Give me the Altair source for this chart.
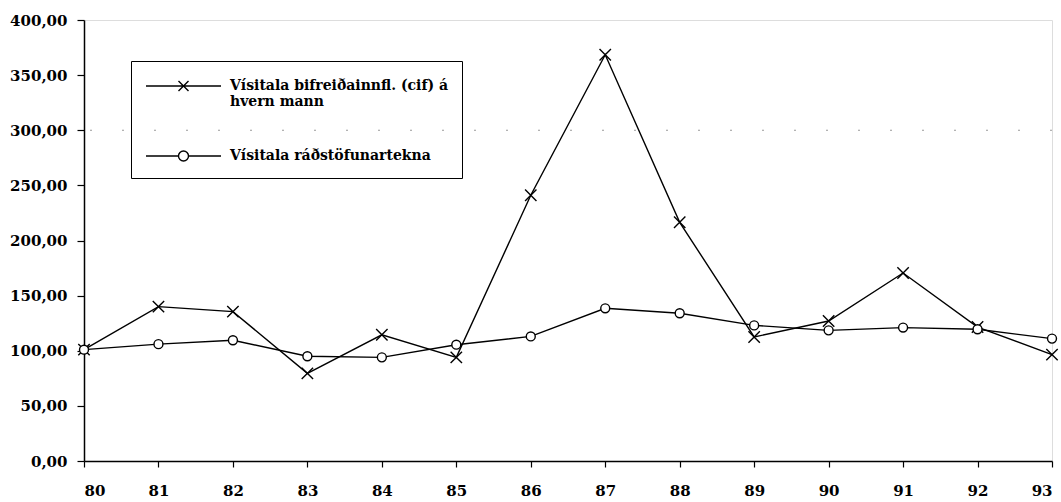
import altair as alt
import pandas as pd

years = [80, 81, 82, 83, 84, 85, 86, 87, 88, 89, 90, 91, 92, 93]
cars = [101, 140, 135.5, 79.5, 114.5, 94, 241, 368.5, 216.5, 112.5, 127, 170.5, 121.5, 96.5]
income = [101, 106, 109.5, 95, 94, 105.5, 113, 138.5, 134, 123, 118.5, 121, 119.5, 111]
series_names = ["Vísitala bifreiðainnfl. (cif) á hvern mann", "Vísitala ráðstöfunartekna"]
label_lines_first = ["Vísitala bifreiðainnfl. (cif) á", "hvern mann"]
y_ticks = [0, 50, 100, 150, 200, 250, 300, 350, 400]

rows = []
for y, a, b in zip(years, cars, income):
    rows.append({"year": y, "series": series_names[0], "value": a})
    rows.append({"year": y, "series": series_names[1], "value": b})
df = pd.DataFrame(rows)

FONT = "DejaVu Serif"
XPATH = "M-1,-1L1,1M-1,1L1,-1"
LEG_X = "M-1,0L6.5,0M2.25,-0.5L3.25,0.5M2.25,0.5L3.25,-0.5"
LEG_O = ("M-1,0L2.25,0M3.25,0L6.5,0"
         "M2.25,0A0.5,0.5,0,1,0,3.25,0A0.5,0.5,0,1,0,2.25,0Z")

axis_common = dict(title=None, grid=False, domainWidth=1.5, tickWidth=1.2,
                   domainColor="black", tickColor="black", labelFont=FONT,
                   labelFontSize=15, labelFontWeight="bold", labelColor="black")

xenc = alt.X("year:Q", scale=alt.Scale(domain=[80, 93], nice=False, zero=False),
             axis=alt.Axis(values=years, format="d", tickSize=6, labelPadding=16,
                           **axis_common))
yenc = alt.Y("value:Q", scale=alt.Scale(domain=[0, 400], nice=False),
             axis=alt.Axis(values=y_ticks,
                           labelExpr="replace(format(datum.value, '.2f'), '.', ',')",
                           tickSize=7, labelPadding=10, **axis_common))

base = alt.Chart(df)

lines = base.mark_line(color="black", strokeWidth=1.4).encode(
    x=xenc, y=yenc, detail="series:N")

pts_x = base.transform_filter(alt.datum.series == series_names[0]).mark_point(
    shape=XPATH, size=130, color="black", strokeWidth=1.4, filled=False, opacity=1
).encode(x="year:Q", y="value:Q")

pts_o = base.transform_filter(alt.datum.series == series_names[1]).mark_point(
    shape="circle", size=80, stroke="black", fill="white", strokeWidth=1.4, filled=True, opacity=1
).encode(x="year:Q", y="value:Q")

grid300 = alt.Chart(pd.DataFrame({"v": [300]})).mark_rule(
    color="#999", strokeWidth=1, strokeDash=[2, 30]).encode(y="v:Q")

label_expr = ("datum.label == '" + series_names[0] + "' ? ['" + label_lines_first[0] +
              "', '" + label_lines_first[1] + "'] : datum.label")

legend_layer = base.transform_filter("datum.value < -1000").mark_point(
    color="black", filled=False, strokeWidth=1.4).encode(
    x="year:Q", y="value:Q",
    shape=alt.Shape("series:N",
                    scale=alt.Scale(domain=series_names, range=[LEG_X, LEG_O]),
                    legend=alt.Legend(
                        title=None, orient="none", legendX=47, legendY=41,
                        strokeColor="black", padding=14,
                        symbolSize=400, symbolStrokeWidth=1.4,
                        symbolStrokeColor="black", symbolOpacity=1,
                        labelOffset=63,
                        labelFont=FONT, labelFontSize=14, labelFontWeight="bold",
                        labelColor="black", labelLimit=400,
                        labelExpr=label_expr,
                        rowPadding=36)))

chart = alt.layer(grid300, lines, pts_x, pts_o, legend_layer).properties(
    width=968, height=441,
    autosize=alt.AutoSizeParams(type="none"),
    padding={"left": 84, "top": 20, "right": 9, "bottom": 41},
).configure_view(stroke=None).configure(background="white")

chart.save("out.html", embed_options={"renderer": "svg", "actions": False})
